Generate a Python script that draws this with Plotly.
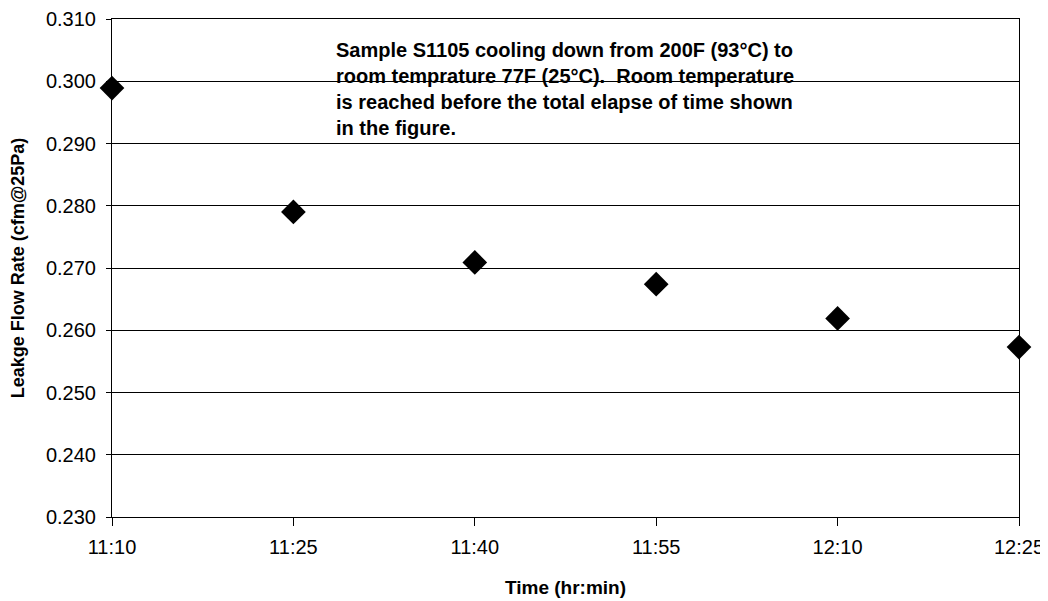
import plotly.graph_objects as go

times = ["11:10", "11:25", "11:40", "11:55", "12:10", "12:25"]
leakage = [0.2989, 0.2790, 0.2709, 0.2674, 0.2619, 0.2573]
y_ticks = [0.230, 0.240, 0.250, 0.260, 0.270, 0.280, 0.290, 0.300, 0.310]
note_lines = [
    "Sample S1105 cooling down from 200F (93°C) to",
    "room temprature 77F (25°C).  Room temperature",
    "is reached before the total elapse of time shown",
    "in the figure.",
]

def to_min(t):
    h, m = t.split(":")
    return int(h) * 60 + int(m)

x_vals = [to_min(t) for t in times]

font_family = "Liberation Sans, Arial, sans-serif"

# page has an ~8px body offset; the figure is sized to fit the window
W, H = 1041, 593
L, R, T, B = 104, 1011, 11, 509

fig = go.Figure()
fig.add_trace(go.Scatter(
    x=x_vals, y=leakage, mode="markers",
    marker=dict(symbol="diamond", size=19, color="black"),
    cliponaxis=False, showlegend=False,
))

fig.update_layout(
    width=W, height=H,
    margin=dict(l=L, r=W - R, t=T, b=H - B),
    paper_bgcolor="white", plot_bgcolor="white",
    font=dict(family=font_family, color="black", size=20),
    xaxis=dict(
        range=[x_vals[0], x_vals[-1]],
        tickvals=x_vals, ticktext=times,
        showgrid=False, zeroline=False,
        showline=True, linecolor="black", linewidth=1, mirror=True,
        ticks="outside", ticklen=8, tickcolor="black",
        ticklabelstandoff=4,
        tickfont=dict(size=20),
        automargin=False,
        title=dict(text="<b>Time (hr:min)</b>", font=dict(size=19), standoff=23),
    ),
    yaxis=dict(
        range=[y_ticks[0], y_ticks[-1]],
        tickvals=y_ticks, tickformat=".3f",
        showgrid=True, gridcolor="black", gridwidth=1,
        zeroline=False,
        showline=True, linecolor="black", linewidth=1, mirror=True,
        ticks="outside", ticklen=5, tickcolor="black",
        ticklabelstandoff=6,
        tickfont=dict(size=20),
        automargin=False,
        title=dict(text="<b>Leakge Flow Rate (cfm@25Pa)</b>", font=dict(size=18), standoff=16),
    ),
)

fig.add_annotation(
    xref="paper", yref="paper", x=(326 - L) / (R - L), y=1 - (29 - T) / (B - T),
    xanchor="left", yanchor="top", align="left", showarrow=False,
    text="<b>" + "<br>".join(note_lines) + "</b>",
    font=dict(size=20, family=font_family, color="black"),
)

fig.write_html("out.html")
